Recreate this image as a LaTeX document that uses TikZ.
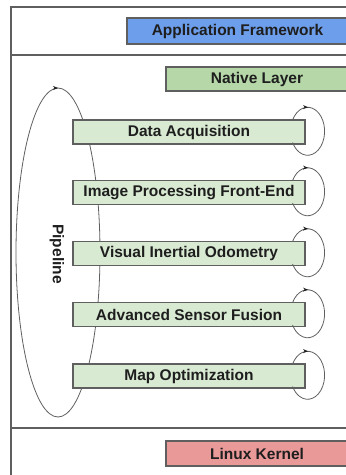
\documentclass[tikz,border=0pt]{standalone}
\usepackage{fontspec}
\setmainfont{Liberation Sans}
\usepackage{xcolor}
\definecolor{Blue}{RGB}{109,158,235}
\definecolor{Green}{RGB}{182,215,168}
\definecolor{LightGreen}{RGB}{217,234,211}
\definecolor{Red}{RGB}{234,153,153}
\definecolor{Border}{RGB}{95,95,95}
\definecolor{Ink}{RGB}{30,30,30}
\usetikzlibrary{arrows.meta,decorations.markings}

\tikzset{
	layerbox/.style={draw=Border, line width=1.2pt, inner sep=0pt, text=Ink, font=\bfseries\fontsize{15.5}{18}\selectfont},
	stagebox/.style={layerbox, fill=LightGreen, minimum width=232pt, minimum height=24pt},
	frameline/.style={draw=Border, line width=1.3pt},
	selfloop/.style={draw=Border, line width=0.8pt, postaction={decorate},
		decoration={markings, mark=at position 0.2 with {\arrow[Ink]{Stealth[length=5pt,width=4pt]}}}},
}

\begin{document}
\begin{tikzpicture}[x=1pt, y=1pt]
		
		\useasboundingbox (0,0) rectangle (346,475);
		\clip (0,0) rectangle (346,475);
		
		% Frame
		\draw[frameline] (11,-5) -- (11,468) -- (360,468);
		\draw[frameline] (11,420) -- (360,420);
		\draw[frameline] (11,47) -- (360,47);
		
		% Layers
		\node[layerbox, fill=Blue, minimum width=221pt, minimum height=26pt] (app) at (237.5,444) {Application Framework};
		\node[layerbox, fill=Green, minimum width=182pt, minimum height=24pt] (native) at (257,396) {Native Layer};
		\node[layerbox, fill=Red, minimum width=182pt, minimum height=25pt] (kernel) at (257,21.5) {Linux Kernel};
		
		% Pipeline
		\draw[draw=Border, line width=0.8pt, postaction={decorate},
			decoration={markings, mark=at position 0.25 with {\arrowreversed[Ink]{Stealth[length=5pt,width=4pt]}}}]
			(58,222.5) ellipse[x radius=42pt, y radius=164.5pt];
		\node[rotate=-90, text=Ink, font=\bfseries\fontsize{15.5}{18}\selectfont] (pipeline) at (57,221) {Pipeline};
		
		% Stages
		\node[stagebox] (acq) at (189,343) {Data Acquisition};
		\node[stagebox] (front) at (189,282.5) {Image Processing Front-End};
		\node[stagebox] (vio) at (189,221.5) {Visual Inertial Odometry};
		\node[stagebox] (fusion) at (189,160.5) {Advanced Sensor Fusion};
		\node[stagebox] (mapopt) at (189,99) {Map Optimization};
		
		% Loops
		\foreach \s in {acq, front, vio, fusion, mapopt}
			\draw[selfloop] ([shift={(-13pt,12pt)}]\s.east) arc[start angle=152, end angle=-152, x radius=17pt, y radius=24pt];
		
	\end{tikzpicture}
\end{document}
